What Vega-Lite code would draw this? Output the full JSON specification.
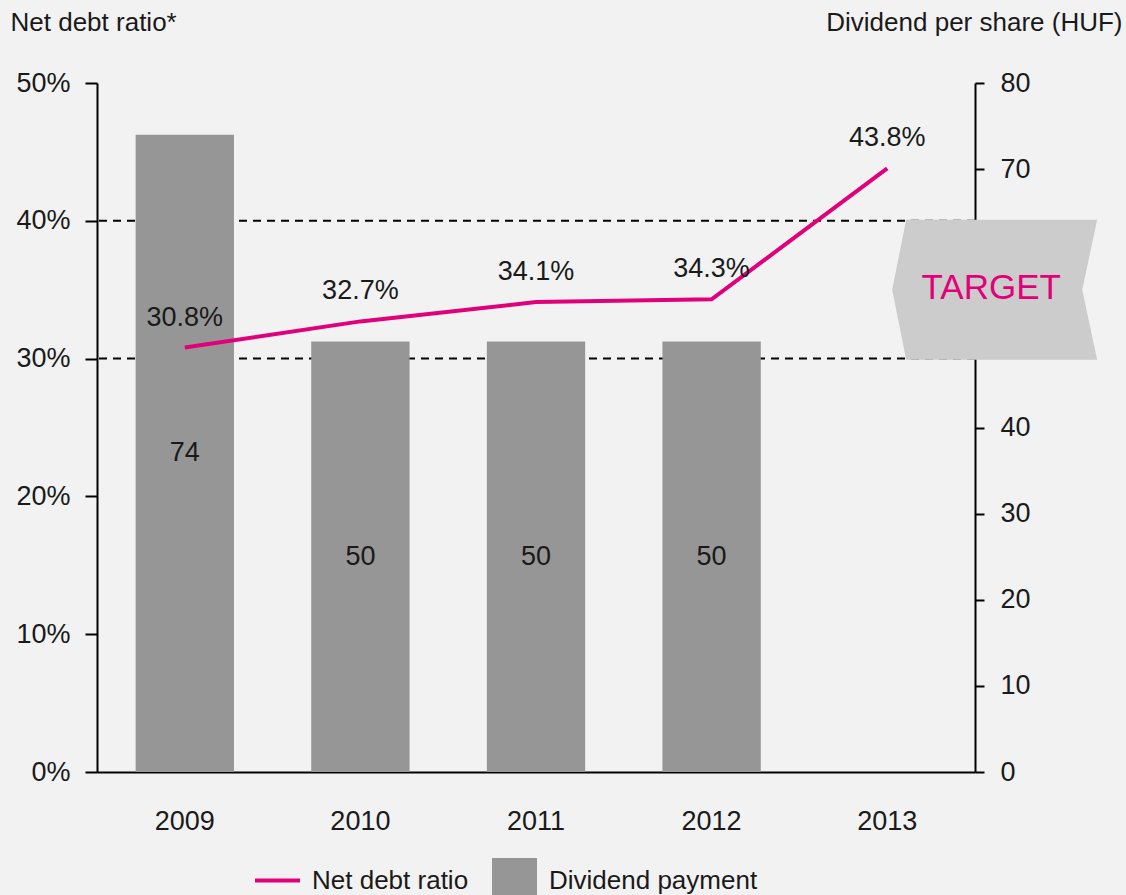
{
  "$schema": "https://vega.github.io/schema/vega-lite/v6.json",
  "autosize": "none",
  "width": 878,
  "height": 689,
  "padding": {"left": 97, "top": 83, "right": 151, "bottom": 123},
  "background": "#f2f2f2",
  "datasets": {
    "main": [
      {"year": "2009", "ratio": 0.308, "dividend": 74},
      {"year": "2010", "ratio": 0.327, "dividend": 50},
      {"year": "2011", "ratio": 0.341, "dividend": 50},
      {"year": "2012", "ratio": 0.343, "dividend": 50},
      {"year": "2013", "ratio": 0.438, "dividend": null}
    ],
    "target": [{"bound": 0.3}, {"bound": 0.4}],
    "targetLabel": [{"label": "TARGET"}]
  },
  "encoding": {
    "x": {
      "field": "year",
      "type": "nominal",
      "scale": {"paddingInner": 0.44, "paddingOuter": 0.22},
      "axis": {"title": null, "ticks": false, "tickSize": 0, "labelPadding": 36, "labelAngle": 0, "domainColor": "#000", "domainWidth": 2}
    }
  },
  "layer": [
    {
      "data": {"name": "target"},
      "mark": {"type": "rule", "strokeDash": [8, 6], "strokeWidth": 2, "color": "#000"},
      "encoding": {
        "x": null,
        "y": {"field": "bound", "type": "quantitative", "scale": {"domain": [0, 0.5]}, "axis": null}
      }
    },
    {
      "data": {"name": "main"},
      "mark": {"type": "bar"},
      "encoding": {
        "y": {
          "field": "dividend", "type": "quantitative",
          "scale": {"domain": [0, 80]},
          "axis": {
            "orient": "right", "values": [0, 10, 20, 30, 40, 70, 80],
            "tickSize": 9, "labelPadding": 16,
            "title": "Dividend per share  (HUF)", "titleAngle": 0, "titleAlign": "right",
            "titleBaseline": "alphabetic", "titleX": 147, "titleY": -53
          }
        },
        "color": {
          "datum": "Dividend payment",
          "scale": {"domain": ["Net debt ratio", "Dividend payment"], "range": ["#e2007a", "#969696"]},
          "legend": {
            "orient": "none", "legendX": 158, "legendY": 775, "direction": "horizontal",
            "title": null, "padding": 0, "symbolSize": 2025, "symbolStrokeWidth": 0,
            "labelFontSize": 26, "labelColor": "#1a1a1a", "labelOffset": 12, "columnPadding": 23,
            "labelLimit": 400,
            "encode": {
              "symbols": {
                "update": {
                  "shape": {"signal": "datum.value === 'Net debt ratio' ? 'M -1 -1 M -1 -0.09 L 1 -0.09 L 1 0.09 L -1 0.09 Z M 1 1' : 'square'"},
                  "fill": {"signal": "datum.value === 'Net debt ratio' ? '#e2007a' : '#969696'"},
                  "stroke": {"value": "transparent"},
                  "strokeWidth": {"value": 0},
                  "opacity": {"value": 1}
                }
              }
            }
          }
        }
      }
    },
    {
      "data": {"name": "main"},
      "mark": {"type": "line", "strokeWidth": 4},
      "encoding": {
        "y": {
          "field": "ratio", "type": "quantitative",
          "scale": {"domain": [0, 0.5]},
          "axis": {
            "orient": "left", "values": [0, 0.1, 0.2, 0.3, 0.4, 0.5], "format": ".0%",
            "tickSize": 12, "labelPadding": 15,
            "title": "Net debt ratio*", "titleAngle": 0, "titleAlign": "left",
            "titleBaseline": "alphabetic", "titleX": -87, "titleY": -53
          }
        },
        "color": {"datum": "Net debt ratio"}
      }
    },
    {
      "data": {"name": "main"},
      "mark": {"type": "text", "fontSize": 27, "dy": -30, "baseline": "middle", "align": "center", "color": "#1a1a1a"},
      "encoding": {
        "y": {"field": "ratio", "type": "quantitative", "scale": {"domain": [0, 0.5]}, "axis": null},
        "text": {"field": "ratio", "type": "quantitative", "format": ".1%"}
      }
    },
    {
      "data": {"name": "main"},
      "mark": {"type": "text", "fontSize": 27, "baseline": "middle", "align": "center", "color": "#1a1a1a"},
      "encoding": {
        "y": {"field": "dividend", "type": "quantitative", "scale": {"domain": [0, 160]}, "axis": null},
        "text": {"field": "dividend", "type": "quantitative"}
      }
    },
    {
      "data": {"name": "targetLabel"},
      "mark": {
        "type": "point", "filled": true, "fill": "#cccccc", "opacity": 1, "strokeWidth": 0,
        "shape": "M 0.271 -1 L 3 -1 L 2.786 0 L 3 1 L 0.271 1 L 0.071 0 Z"
      },
      "encoding": {
        "x": {"datum": "2013"},
        "y": {"datum": 0.35, "type": "quantitative", "scale": {"domain": [0, 0.5]}, "axis": null},
        "size": {"value": 19600}
      }
    },
    {
      "data": {"name": "targetLabel"},
      "mark": {"type": "text", "font": "Liberation Sans", "fontSize": 35, "color": "#e2007a", "dx": 104, "dy": -2, "baseline": "middle", "align": "center"},
      "encoding": {
        "x": {"datum": "2013"},
        "y": {"datum": 0.35, "type": "quantitative", "scale": {"domain": [0, 0.5]}, "axis": null},
        "text": {"field": "label", "type": "nominal"}
      }
    }
  ],
  "resolve": {"scale": {"y": "independent"}, "axis": {"y": "independent"}},
  "config": {
    "view": {"stroke": null},
    "font": "Liberation Sans",
    "axis": {
      "grid": false,
      "domainColor": "#000", "domainWidth": 2,
      "tickColor": "#000", "tickWidth": 2,
      "labelColor": "#1a1a1a", "labelFontSize": 27,
      "titleFontSize": 26, "titleFontWeight": "normal", "titleColor": "#1a1a1a"
    }
  }
}
